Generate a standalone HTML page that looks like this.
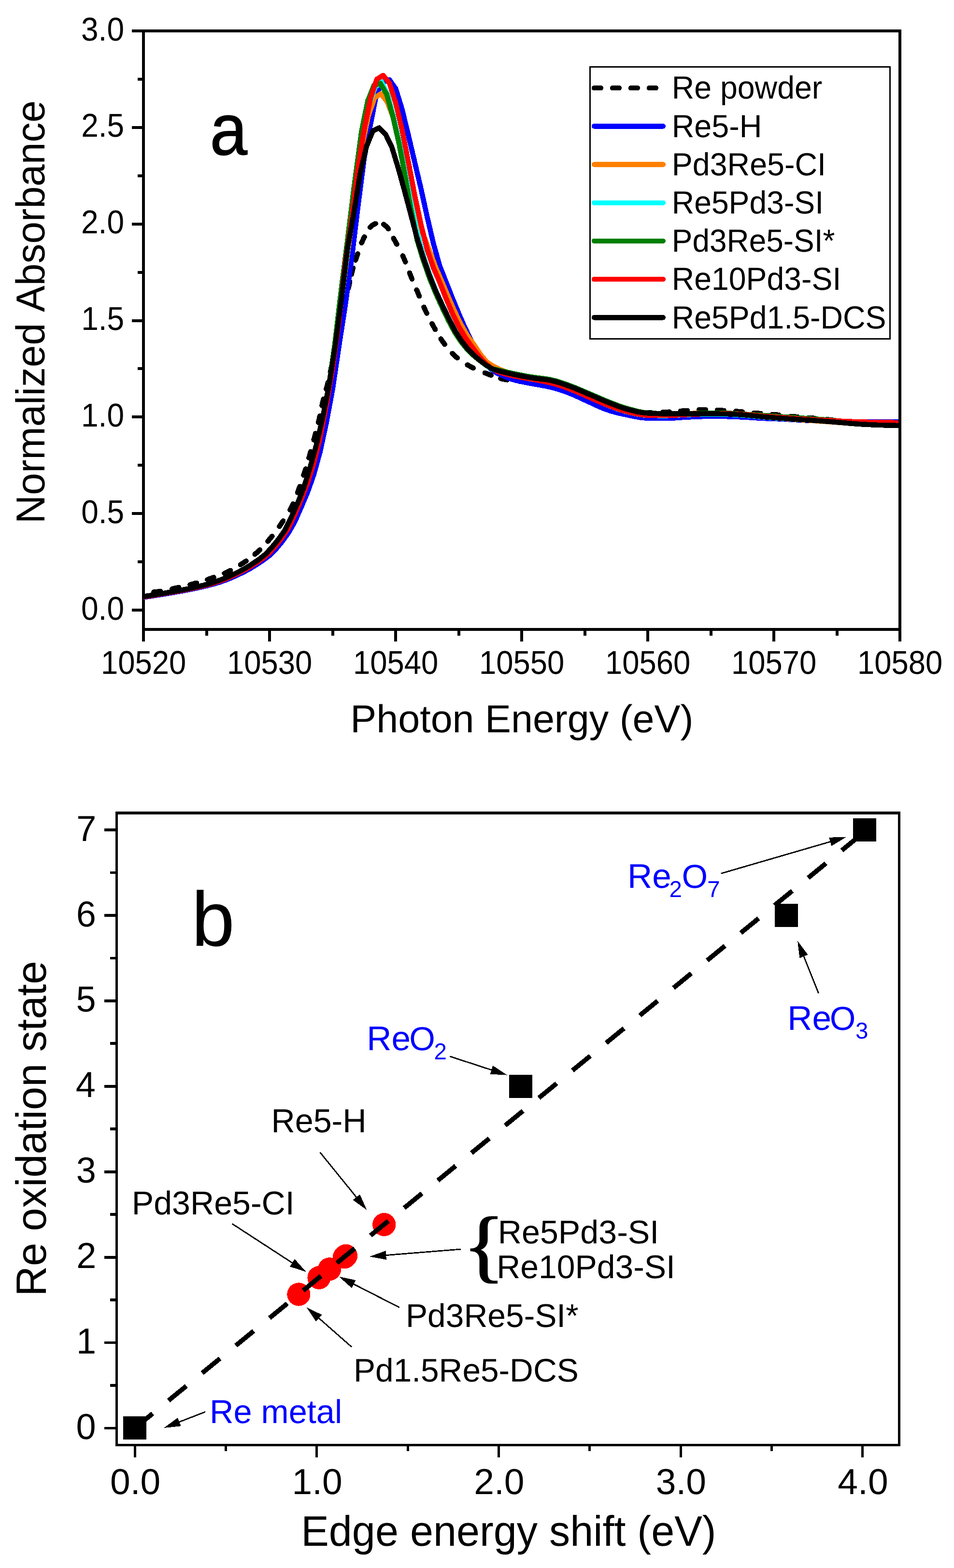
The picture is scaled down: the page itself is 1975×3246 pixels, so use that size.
<!DOCTYPE html>
<html lang="en"><head><meta charset="utf-8"><title>Re L3-edge XANES and oxidation state</title>
<style>
html,body{margin:0;padding:0;background:#fff;}
body{width:1975px;height:3246px;overflow:hidden;}
svg{display:block;}
svg text{font-family:"Liberation Sans",sans-serif;font-kerning:none;font-variant-ligatures:none;white-space:pre;}
</style></head><body>
<svg width="1975" height="3246" viewBox="0 0 1975 3246" shape-rendering="crispEdges" text-rendering="geometricPrecision">
<rect x="0" y="0" width="1975" height="3246" fill="#fff"/>
<rect x="294.00" y="61.00" width="6.00" height="1245.00" fill="#000"/>
<rect x="294.00" y="1300.00" width="1572.00" height="6.00" fill="#000"/>
<rect x="294.00" y="61.00" width="1572.00" height="6.00" fill="#000"/>
<rect x="1860.00" y="61.00" width="6.00" height="1245.00" fill="#000"/>
<rect x="273.00" y="1260.00" width="22.00" height="6.00" fill="#000"/>
<rect x="285.00" y="1160.08" width="10.00" height="6.00" fill="#000"/>
<rect x="273.00" y="1060.17" width="22.00" height="6.00" fill="#000"/>
<rect x="285.00" y="960.25" width="10.00" height="6.00" fill="#000"/>
<rect x="273.00" y="860.33" width="22.00" height="6.00" fill="#000"/>
<rect x="285.00" y="760.42" width="10.00" height="6.00" fill="#000"/>
<rect x="273.00" y="660.50" width="22.00" height="6.00" fill="#000"/>
<rect x="285.00" y="560.58" width="10.00" height="6.00" fill="#000"/>
<rect x="273.00" y="460.67" width="22.00" height="6.00" fill="#000"/>
<rect x="285.00" y="360.75" width="10.00" height="6.00" fill="#000"/>
<rect x="273.00" y="260.83" width="22.00" height="6.00" fill="#000"/>
<rect x="285.00" y="160.92" width="10.00" height="6.00" fill="#000"/>
<rect x="273.00" y="61.00" width="22.00" height="6.00" fill="#000"/>
<rect x="294.00" y="1305.00" width="6.00" height="23.00" fill="#000"/>
<rect x="424.50" y="1305.00" width="6.00" height="11.00" fill="#000"/>
<rect x="555.00" y="1305.00" width="6.00" height="23.00" fill="#000"/>
<rect x="685.50" y="1305.00" width="6.00" height="11.00" fill="#000"/>
<rect x="816.00" y="1305.00" width="6.00" height="23.00" fill="#000"/>
<rect x="946.50" y="1305.00" width="6.00" height="11.00" fill="#000"/>
<rect x="1077.00" y="1305.00" width="6.00" height="23.00" fill="#000"/>
<rect x="1207.50" y="1305.00" width="6.00" height="11.00" fill="#000"/>
<rect x="1338.00" y="1305.00" width="6.00" height="23.00" fill="#000"/>
<rect x="1468.50" y="1305.00" width="6.00" height="11.00" fill="#000"/>
<rect x="1599.00" y="1305.00" width="6.00" height="23.00" fill="#000"/>
<rect x="1729.50" y="1305.00" width="6.00" height="11.00" fill="#000"/>
<rect x="1860.00" y="1305.00" width="6.00" height="23.00" fill="#000"/>
<clipPath id="clipA"><rect x="297" y="67" width="1563" height="1233"/></clipPath>
<g clip-path="url(#clipA)" fill="none" stroke-linejoin="round" stroke-linecap="butt">
<path d="M285.0,1229.0 L287.4,1228.7 L289.7,1228.4 L292.1,1228.1 L294.4,1227.8 M318.5,1225.6 L322.0,1225.3 L325.4,1224.9 L328.8,1224.4 L332.2,1223.9 M356.5,1219.0 L359.9,1218.2 L363.3,1217.5 L366.6,1216.8 L370.0,1216.0 M393.6,1210.4 L396.9,1209.6 L400.2,1208.7 L403.6,1207.7 L406.9,1206.8 M429.5,1199.8 L432.7,1198.7 L436.0,1197.5 L439.2,1196.4 L442.5,1195.3 M464.6,1186.8 L467.8,1185.5 L470.9,1184.0 L474.0,1182.6 L477.1,1181.0 M497.9,1169.1 L500.8,1167.2 L503.7,1165.3 L506.6,1163.4 L509.4,1161.5 M527.7,1147.4 L530.3,1145.2 L532.9,1142.9 L535.5,1140.5 L538.0,1138.2 M554.5,1120.4 L556.8,1117.8 L559.0,1115.2 L561.2,1112.5 L563.4,1109.9 M578.4,1089.8 L580.4,1086.9 L582.3,1084.1 L584.2,1081.2 L586.2,1078.4 M600.6,1055.4 L602.2,1052.4 L603.8,1049.3 L605.2,1046.2 L606.7,1043.0 M616.0,1019.7 L617.2,1016.5 L618.4,1013.3 L619.6,1010.0 L620.8,1006.8 M628.6,983.9 L629.7,980.6 L630.7,977.3 L631.8,974.0 L632.8,970.7 M639.5,948.1 L640.5,944.7 L641.4,941.4 L642.3,938.1 L643.2,934.8 M649.7,910.5 L650.6,907.2 L651.4,903.9 L652.3,900.5 L653.2,897.2 M659.1,874.6 L659.9,871.2 L660.7,867.9 L661.5,864.5 L662.2,861.1 M666.5,839.7 L667.2,836.4 L668.0,833.0 L668.7,829.6 L669.6,826.3 M675.4,805.3 L676.4,801.9 L677.3,798.6 L678.2,795.3 L679.0,791.9 M683.8,770.6 L684.5,767.3 L685.2,763.9 L685.9,760.5 L686.6,757.1 M690.4,735.6 L691.0,732.2 L691.6,728.8 L692.1,725.4 L692.7,722.0 M696.4,700.5 L697.0,697.1 L697.7,693.7 L698.3,690.3 L698.9,687.0 M703.1,665.5 L703.8,662.1 L704.5,658.8 L705.3,655.4 L706.0,652.0 M711.7,631.0 L712.7,627.7 L713.6,624.3 L714.6,621.0 L715.6,617.7 M721.2,596.6 L722.0,593.3 L722.7,589.9 L723.5,586.5 L724.2,583.2 M727.5,568.2 L728.3,564.8 L729.2,561.5 L730.1,558.1 L731.0,554.8 M736.1,538.5 L737.2,535.3 L738.3,532.0 L739.4,528.7 L740.5,525.4 M748.6,502.9 L750.0,499.7 L751.4,496.6 L752.9,493.5 L754.4,490.4 M766.2,470.5 L768.7,468.0 L771.4,466.0 L774.5,464.3 L777.6,462.9 M794.1,464.3 L796.8,466.4 L799.4,468.6 L801.9,471.1 L804.0,473.8 M814.8,493.4 L816.4,496.5 L818.0,499.5 L819.7,502.5 L821.4,505.6 M833.8,529.6 L835.2,532.8 L836.7,535.9 L838.0,539.1 L839.3,542.3 M847.9,564.9 L849.1,568.1 L850.4,571.4 L851.7,574.5 L853.0,577.7 M862.6,600.3 L864.0,603.4 L865.4,606.6 L866.7,609.8 L868.0,613.0 M877.6,635.8 L879.0,639.0 L880.4,642.1 L881.9,645.3 L883.4,648.4 M894.4,670.0 L896.0,673.0 L897.7,676.0 L899.3,679.0 L901.0,682.0 M912.8,701.6 L914.7,704.5 L916.7,707.3 L918.7,710.1 L920.7,712.9 M936.5,731.7 L938.9,734.2 L941.4,736.5 L944.0,738.8 L946.7,741.0 M967.7,755.4 L970.7,757.1 L973.7,758.7 L976.7,760.3 L979.8,761.9 M1003.8,771.9 L1007.0,773.1 L1010.2,774.3 L1013.4,775.6 L1016.7,776.8 M1036.6,783.6 L1040.0,784.5 L1043.4,785.2 L1046.8,785.8 L1050.2,786.3 M1074.6,789.2 L1078.0,789.5 L1081.5,789.9 L1084.9,790.2 L1088.3,790.6 M1112.7,793.8 L1116.1,794.3 L1119.5,794.8 L1123.0,795.3 L1126.4,795.8 M1150.6,799.8 L1154.0,800.4 L1157.4,801.1 L1160.8,801.8 L1164.2,802.4 M1188.1,808.3 L1191.4,809.3 L1194.6,810.4 L1197.9,811.6 L1201.1,812.9 M1223.6,822.7 L1226.8,824.1 L1229.9,825.6 L1233.0,827.0 L1236.2,828.4 M1259.0,837.6 L1262.2,838.8 L1265.5,839.9 L1268.7,841.1 L1272.0,842.2 M1295.5,849.2 L1298.9,849.8 L1302.4,850.4 L1305.8,850.9 L1309.2,851.4 M1333.6,853.9 L1337.1,854.0 L1340.5,854.0 L1344.0,854.0 L1347.4,853.9 M1372.0,853.3 L1375.5,853.1 L1378.9,853.0 L1382.4,852.9 L1385.8,852.7 M1409.1,851.0 L1412.6,850.7 L1416.0,850.5 L1419.4,850.3 L1422.9,850.0 M1447.0,848.2 L1450.5,848.0 L1453.9,848.0 L1457.4,848.0 L1460.8,848.1 M1485.0,849.1 L1488.5,849.3 L1491.9,849.5 L1495.4,849.7 L1498.8,849.9 M1523.3,851.5 L1526.7,851.7 L1530.1,852.0 L1533.6,852.3 L1537.0,852.6 M1561.1,854.9 L1564.6,855.2 L1568.0,855.5 L1571.4,855.8 L1574.9,856.1 M1599.0,857.9 L1602.5,858.2 L1605.9,858.5 L1609.3,858.8 L1612.8,859.2 M1637.1,861.8 L1640.6,862.2 L1644.0,862.5 L1647.4,862.8 L1650.9,863.1 M1674.2,864.9 L1677.6,865.2 L1681.0,865.5 L1684.5,865.8 L1687.9,866.1 M1711.2,868.3 L1714.6,868.6 L1718.0,869.0 L1721.5,869.4 L1724.9,869.8 M1748.9,872.7 L1752.3,873.1 L1755.8,873.5 L1759.2,873.9 L1762.6,874.3 M1786.7,877.0 L1790.1,877.3 L1793.5,877.6 L1797.0,877.8 L1800.4,878.0 M1824.6,879.1 L1828.0,879.2 L1831.5,879.3 L1834.9,879.4 L1838.4,879.5 M1862.6,880.0 L1865.7,880.1 L1868.8,880.1 L1871.9,880.2 L1875.0,880.2" stroke="#000" stroke-width="10.6" stroke-linecap="round"/>
<path d="M284.1,1238.2 L297.1,1236.5 L310.2,1234.6 L323.2,1232.5 L336.3,1230.4 L349.4,1228.2 L362.4,1226.0 L375.5,1223.7 L388.5,1221.2 L401.6,1218.6 L414.6,1215.8 L427.7,1212.8 L440.7,1209.4 L453.8,1205.6 L466.8,1201.0 L479.9,1195.7 L492.9,1189.8 L506.0,1183.5 L519.0,1176.3 L532.1,1168.2 L545.1,1159.7 L558.2,1149.8 L571.2,1136.7 L584.3,1120.9 L597.3,1102.9 L610.4,1079.8 L623.4,1050.4 L636.5,1019.6 L649.5,982.9 L662.6,935.5 L675.6,875.5 L688.7,804.9 L701.7,716.8 L714.8,631.9 L727.8,537.1 L740.9,429.1 L753.9,327.4 L767.0,257.3 L780.0,191.7 L793.1,169.8 L806.1,165.0 L819.2,183.5 L832.2,225.6 L845.3,279.5 L858.3,334.6 L871.4,390.0 L884.4,449.1 L897.5,505.0 L910.5,551.0 L923.6,584.1 L936.6,617.2 L949.7,648.9 L962.7,678.6 L975.8,705.2 L988.8,728.5 L1001.9,748.5 L1014.9,763.3 L1028.0,772.0 L1041.0,777.9 L1054.1,783.4 L1067.1,787.3 L1080.2,790.2 L1093.2,792.7 L1106.3,795.2 L1119.3,797.4 L1132.4,799.8 L1145.4,802.9 L1158.5,806.7 L1171.5,811.2 L1184.6,816.2 L1197.6,822.0 L1210.7,828.2 L1223.7,834.1 L1236.8,840.2 L1249.8,845.8 L1262.9,850.4 L1275.9,854.0 L1289.0,857.1 L1302.0,859.8 L1315.1,862.5 L1328.1,864.8 L1341.2,865.7 L1354.2,865.8 L1367.3,865.9 L1380.3,865.9 L1393.4,865.5 L1406.4,864.6 L1419.5,863.7 L1432.5,863.1 L1445.6,862.4 L1458.6,862.1 L1471.7,862.1 L1484.7,862.1 L1497.8,862.1 L1510.8,862.3 L1523.9,862.8 L1536.9,863.5 L1550.0,864.1 L1563.0,865.0 L1576.1,865.8 L1589.1,866.4 L1602.2,866.9 L1615.2,867.4 L1628.3,868.0 L1641.3,868.8 L1654.4,869.6 L1667.4,870.2 L1680.5,870.8 L1693.5,871.3 L1706.6,871.7 L1719.6,872.1 L1732.7,872.5 L1745.7,872.8 L1758.8,873.2 L1771.8,873.4 L1784.9,873.5 L1797.9,873.5 L1811.0,873.4 L1824.0,873.4 L1837.1,873.3 L1850.1,873.3 L1863.2,873.3" stroke="#0000ff" stroke-width="10.6"/>
<path d="M276.0,1237.8 L289.1,1236.0 L302.1,1234.1 L315.2,1232.0 L328.2,1229.9 L341.3,1227.7 L354.4,1225.4 L367.4,1223.1 L380.5,1220.6 L393.5,1217.9 L406.6,1215.0 L419.6,1212.0 L432.7,1208.5 L445.7,1204.5 L458.8,1199.7 L471.8,1194.3 L484.9,1188.3 L497.9,1181.8 L511.0,1174.4 L524.0,1166.2 L537.1,1157.4 L550.1,1146.8 L563.2,1132.8 L576.2,1116.8 L589.3,1098.3 L602.3,1072.4 L615.4,1043.1 L628.4,1011.0 L641.5,969.2 L654.5,922.5 L667.6,867.0 L680.6,800.7 L693.7,717.9 L706.7,619.5 L719.8,522.8 L732.8,428.6 L749.6,301.6 L762.6,239.9 L775.7,202.2 L788.7,194.0 L801.8,211.3 L814.8,244.8 L827.9,305.4 L837.2,348.6 L850.3,409.7 L863.3,456.5 L876.4,485.9 L889.4,519.4 L902.5,554.7 L915.5,584.7 L928.6,615.8 L941.6,645.4 L954.7,672.2 L967.7,694.9 L980.8,712.8 L993.8,732.4 L1006.9,748.6 L1019.9,757.4 L1033.0,764.1 L1046.0,769.1 L1059.1,773.1 L1072.1,776.5 L1085.2,779.3 L1098.2,781.7 L1111.3,783.6 L1124.3,785.1 L1137.4,787.0 L1150.4,790.0 L1163.5,794.1 L1176.5,798.7 L1189.6,803.6 L1202.6,809.0 L1215.7,814.7 L1228.7,820.2 L1241.8,825.9 L1254.8,831.4 L1267.9,836.6 L1280.9,841.6 L1294.0,845.9 L1307.0,849.4 L1320.1,852.5 L1333.1,854.7 L1346.2,855.6 L1359.2,856.1 L1372.3,856.4 L1385.3,856.5 L1398.4,856.5 L1411.4,856.4 L1424.5,856.2 L1437.5,855.7 L1450.6,855.1 L1463.6,854.9 L1476.7,854.9 L1489.7,854.9 L1502.8,854.9 L1515.8,855.9 L1528.9,857.6 L1541.9,859.2 L1555.0,860.5 L1568.0,861.9 L1581.1,863.1 L1594.1,864.3 L1607.2,865.5 L1620.2,866.5 L1633.3,867.4 L1646.3,868.3 L1659.4,869.2 L1672.4,870.1 L1685.5,871.0 L1698.5,871.9 L1711.6,872.8 L1724.6,873.8 L1737.7,874.8 L1750.7,875.8 L1763.8,876.9 L1776.8,877.8 L1789.9,878.6 L1802.9,879.2 L1816.0,879.8 L1829.0,880.2 L1842.1,880.5 L1855.1,880.8 L1868.2,881.0" stroke="#ff8000" stroke-width="10.6"/>
<path d="M276.0,1237.8 L289.1,1236.0 L302.1,1234.1 L315.2,1232.0 L328.2,1229.9 L341.3,1227.7 L354.4,1225.4 L367.4,1223.1 L380.5,1220.6 L393.5,1217.9 L406.6,1215.0 L419.6,1212.0 L432.7,1208.5 L445.7,1204.5 L458.8,1199.7 L471.8,1194.3 L484.9,1188.3 L497.9,1181.8 L511.0,1174.4 L524.0,1166.2 L537.1,1157.4 L550.1,1146.8 L563.2,1132.8 L576.2,1116.8 L589.3,1098.3 L602.3,1072.4 L615.4,1043.1 L628.4,1011.0 L641.5,969.2 L654.5,922.5 L667.6,867.0 L680.6,800.7 L693.7,717.9 L706.7,619.5 L719.8,515.8 L732.8,411.3 L750.6,286.7 L763.6,217.0 L776.7,180.6 L789.7,169.0 L802.8,197.5 L815.8,247.0 L828.9,305.2 L837.2,349.1 L850.3,418.4 L863.3,480.4 L876.4,528.9 L889.4,568.3 L902.5,602.6 L915.5,630.7 L928.6,657.9 L941.6,683.3 L954.7,704.1 L967.7,721.1 L980.8,734.9 L993.8,746.6 L1006.9,756.8 L1019.9,764.9 L1033.0,768.9 L1046.0,772.5 L1059.1,775.8 L1072.1,779.0 L1085.2,781.9 L1098.2,784.7 L1111.3,786.9 L1124.3,788.9 L1137.4,791.2 L1150.4,794.6 L1163.5,799.1 L1176.5,804.2 L1189.6,809.3 L1202.6,814.8 L1215.7,820.5 L1228.7,826.2 L1241.8,832.1 L1254.8,837.7 L1267.9,842.7 L1280.9,847.5 L1294.0,851.6 L1307.0,854.7 L1320.1,857.6 L1333.1,859.5 L1346.2,860.0 L1359.2,860.2 L1372.3,860.3 L1385.3,860.2 L1398.4,859.7 L1411.4,859.0 L1424.5,858.4 L1437.5,858.0 L1450.6,857.6 L1463.6,857.5 L1476.7,857.5 L1489.7,857.6 L1502.8,857.8 L1515.8,858.2 L1528.9,859.0 L1541.9,859.8 L1555.0,860.9 L1568.0,862.2 L1581.1,863.4 L1594.1,864.4 L1607.2,865.4 L1620.2,866.3 L1633.3,867.1 L1646.3,867.9 L1659.4,868.7 L1672.4,869.5 L1685.5,870.4 L1698.5,871.4 L1711.6,872.4 L1724.6,873.4 L1737.7,874.5 L1750.7,875.6 L1763.8,876.8 L1776.8,877.8 L1789.9,878.6 L1802.9,879.2 L1816.0,879.8 L1829.0,880.2 L1842.1,880.5 L1855.1,880.8 L1868.2,881.0" stroke="#00ffff" stroke-width="10.6"/>
<path d="M276.0,1237.8 L289.1,1236.0 L302.1,1234.1 L315.2,1232.0 L328.2,1229.9 L341.3,1227.7 L354.4,1225.4 L367.4,1223.1 L380.5,1220.6 L393.5,1217.9 L406.6,1215.0 L419.6,1212.0 L432.7,1208.5 L445.7,1204.5 L458.8,1199.7 L471.8,1194.3 L484.9,1188.3 L497.9,1181.8 L511.0,1174.4 L524.0,1166.2 L537.1,1157.4 L550.1,1146.8 L563.2,1132.8 L576.2,1116.8 L589.3,1098.3 L602.3,1072.4 L615.4,1043.1 L628.4,1011.0 L641.5,969.2 L654.5,922.5 L667.6,867.0 L680.6,800.4 L693.7,707.7 L706.7,597.4 L719.8,494.1 L732.8,388.6 L748.3,273.1 L761.3,208.8 L774.4,176.4 L787.4,172.7 L800.5,195.0 L813.5,241.7 L826.6,299.6 L837.2,356.3 L850.3,430.7 L863.3,496.4 L876.4,539.2 L889.4,576.1 L902.5,608.2 L915.5,636.6 L928.6,664.0 L941.6,688.4 L954.7,708.0 L967.7,723.8 L980.8,736.3 L993.8,746.9 L1006.9,756.1 L1019.9,763.4 L1033.0,766.6 L1046.0,769.6 L1059.1,772.5 L1072.1,775.2 L1085.2,777.8 L1098.2,780.1 L1111.3,781.9 L1124.3,783.5 L1137.4,785.4 L1150.4,788.4 L1163.5,792.5 L1176.5,797.1 L1189.6,802.0 L1202.6,807.5 L1215.7,813.1 L1228.7,818.7 L1241.8,824.4 L1254.8,829.9 L1267.9,835.0 L1280.9,840.0 L1294.0,844.4 L1307.0,848.0 L1320.1,851.5 L1333.1,854.1 L1346.2,855.2 L1359.2,855.8 L1372.3,856.2 L1385.3,856.3 L1398.4,856.3 L1411.4,856.3 L1424.5,856.3 L1437.5,856.0 L1450.6,855.6 L1463.6,855.5 L1476.7,855.4 L1489.7,855.4 L1502.8,855.4 L1515.8,855.9 L1528.9,856.8 L1541.9,857.6 L1555.0,858.3 L1568.0,859.1 L1581.1,859.9 L1594.1,860.8 L1607.2,861.8 L1620.2,862.8 L1633.3,863.7 L1646.3,864.6 L1659.4,865.5 L1672.4,866.3 L1685.5,867.2 L1698.5,868.2 L1711.6,869.2 L1724.6,870.3 L1737.7,871.4 L1750.7,872.6 L1763.8,873.8 L1776.8,874.9 L1789.9,875.7 L1802.9,876.4 L1816.0,877.0 L1829.0,877.4 L1842.1,877.8 L1855.1,878.1 L1868.2,878.4" stroke="#008000" stroke-width="10.6"/>
<path d="M284.2,1237.4 L297.2,1235.6 L310.3,1233.6 L323.3,1231.5 L336.4,1229.3 L349.4,1227.1 L362.5,1224.9 L375.5,1222.5 L388.6,1219.9 L401.6,1217.2 L414.7,1214.3 L427.7,1211.2 L440.8,1207.6 L453.8,1203.4 L466.9,1198.5 L479.9,1192.9 L493.0,1186.8 L506.0,1180.2 L519.1,1172.5 L532.1,1164.2 L545.2,1155.2 L558.2,1143.8 L571.3,1129.3 L584.3,1112.5 L597.4,1092.7 L610.4,1065.4 L623.5,1034.4 L636.5,1000.2 L649.6,959.1 L662.6,906.3 L675.7,838.2 L688.7,761.6 L701.8,665.2 L714.8,543.6 L727.9,454.4 L740.9,349.4 L754.0,267.6 L767.0,203.7 L780.1,164.0 L793.1,156.0 L806.2,172.2 L819.2,213.4 L832.3,268.5 L845.3,334.9 L858.4,403.7 L871.4,464.0 L884.5,517.1 L897.5,554.9 L910.6,585.1 L923.6,618.1 L936.7,649.0 L949.7,675.8 L962.8,698.2 L975.8,716.4 L988.9,733.8 L1001.9,749.2 L1015.0,760.9 L1028.0,768.1 L1041.1,772.8 L1054.1,776.1 L1067.2,778.9 L1080.2,781.3 L1093.3,783.6 L1106.3,786.0 L1119.4,788.3 L1132.4,790.8 L1145.5,793.9 L1158.5,797.8 L1171.6,802.3 L1184.6,807.2 L1197.7,812.6 L1210.7,818.4 L1223.8,824.1 L1236.8,829.9 L1249.9,835.5 L1262.9,840.6 L1276.0,845.4 L1289.0,849.8 L1302.1,853.3 L1315.1,856.3 L1328.2,858.7 L1341.2,859.7 L1354.3,859.9 L1367.3,860.1 L1380.4,860.1 L1393.4,859.7 L1406.5,859.0 L1419.5,858.3 L1432.6,857.8 L1445.6,857.3 L1458.7,856.9 L1471.7,856.7 L1484.8,856.5 L1497.8,856.4 L1510.9,856.6 L1523.9,857.1 L1537.0,857.8 L1550.0,858.7 L1563.1,859.9 L1576.1,861.2 L1589.2,862.2 L1602.2,863.1 L1615.3,864.1 L1628.3,865.0 L1641.4,866.0 L1654.4,866.9 L1667.5,867.7 L1680.5,868.5 L1693.6,869.2 L1706.6,869.9 L1719.7,870.6 L1732.7,871.3 L1745.8,872.0 L1758.8,872.6 L1771.9,873.1 L1784.9,873.5 L1798.0,873.9 L1811.0,874.1 L1824.1,874.4 L1837.1,874.6 L1850.2,874.8 L1863.2,874.9" stroke="#ff0000" stroke-width="10.6"/>
<path d="M276.0,1237.8 L289.1,1236.0 L302.1,1234.1 L315.2,1232.0 L328.2,1229.9 L341.3,1227.7 L354.4,1225.4 L367.4,1223.1 L380.5,1220.6 L393.5,1217.9 L406.6,1215.0 L419.6,1212.0 L432.7,1208.5 L445.7,1204.5 L458.8,1199.7 L471.8,1194.3 L484.9,1188.3 L497.9,1181.8 L511.0,1174.4 L524.0,1166.2 L537.1,1157.4 L550.1,1146.8 L563.2,1132.8 L576.2,1116.8 L589.3,1098.3 L602.3,1072.4 L615.4,1043.1 L628.4,1011.0 L641.5,969.2 L654.5,922.5 L667.6,867.0 L680.6,800.7 L693.7,717.9 L706.7,619.5 L719.8,511.7 L732.8,439.2 L745.9,357.6 L758.9,302.7 L772.0,271.0 L785.0,264.6 L798.1,277.7 L811.1,304.3 L824.2,347.0 L837.2,394.1 L850.3,443.4 L863.3,492.4 L876.4,533.8 L889.4,570.9 L902.5,603.3 L915.5,631.5 L928.6,658.8 L941.6,684.1 L954.7,704.7 L967.7,721.6 L980.8,735.1 L993.8,746.4 L1006.9,756.3 L1019.9,764.2 L1033.0,768.0 L1046.0,771.3 L1059.1,774.2 L1072.1,776.9 L1085.2,779.4 L1098.2,781.7 L1111.3,783.6 L1124.3,785.1 L1137.4,787.0 L1150.4,790.0 L1163.5,794.1 L1176.5,798.7 L1189.6,803.6 L1202.6,809.0 L1215.7,814.7 L1228.7,820.2 L1241.8,825.9 L1254.8,831.4 L1267.9,836.6 L1280.9,841.6 L1294.0,845.9 L1307.0,849.4 L1320.1,852.5 L1333.1,854.7 L1346.2,855.6 L1359.2,856.1 L1372.3,856.4 L1385.3,856.5 L1398.4,856.4 L1411.4,856.3 L1424.5,856.3 L1437.5,856.4 L1450.6,856.4 L1463.6,856.5 L1476.7,856.6 L1489.7,856.8 L1502.8,857.0 L1515.8,857.5 L1528.9,858.2 L1541.9,859.1 L1555.0,860.3 L1568.0,861.6 L1581.1,862.9 L1594.1,864.0 L1607.2,865.0 L1620.2,866.0 L1633.3,866.9 L1646.3,867.8 L1659.4,868.7 L1672.4,869.5 L1685.5,870.4 L1698.5,871.4 L1711.6,872.4 L1724.6,873.4 L1737.7,874.5 L1750.7,875.6 L1763.8,876.8 L1776.8,877.8 L1789.9,878.6 L1802.9,879.2 L1816.0,879.8 L1829.0,880.2 L1842.1,880.5 L1855.1,880.8 L1868.2,881.0" stroke="#000" stroke-width="10.6"/>
</g>
<text transform="translate(168.00,1282.60) scale(0.9360,1.0000)" font-size="68.40" fill="#000">0.0</text>
<text transform="translate(168.19,1082.77) scale(0.9360,1.0000)" font-size="68.40" fill="#000">0.5</text>
<text transform="translate(168.00,882.93) scale(0.9360,1.0000)" font-size="68.40" fill="#000">1.0</text>
<text transform="translate(168.19,683.10) scale(0.9360,1.0000)" font-size="68.40" fill="#000">1.5</text>
<text transform="translate(168.00,483.27) scale(0.9360,1.0000)" font-size="68.40" fill="#000">2.0</text>
<text transform="translate(168.19,283.43) scale(0.9360,1.0000)" font-size="68.40" fill="#000">2.5</text>
<text transform="translate(168.00,83.60) scale(0.9360,1.0000)" font-size="68.40" fill="#000">3.0</text>
<text transform="translate(208.90,1394.80) scale(0.9266,1.0000)" font-size="68.40" fill="#000">10520</text>
<text transform="translate(469.90,1394.80) scale(0.9266,1.0000)" font-size="68.40" fill="#000">10530</text>
<text transform="translate(730.90,1394.80) scale(0.9266,1.0000)" font-size="68.40" fill="#000">10540</text>
<text transform="translate(991.90,1394.80) scale(0.9266,1.0000)" font-size="68.40" fill="#000">10550</text>
<text transform="translate(1252.90,1394.80) scale(0.9266,1.0000)" font-size="68.40" fill="#000">10560</text>
<text transform="translate(1513.90,1394.80) scale(0.9266,1.0000)" font-size="68.40" fill="#000">10570</text>
<text transform="translate(1774.90,1394.80) scale(0.9266,1.0000)" font-size="68.40" fill="#000">10580</text>
<text transform="translate(725.37,1515.50) scale(1.0007,1.0000)" font-size="80.79" fill="#000">Photon Energy (eV)</text>
<text transform="translate(92.30,1084.03) rotate(-90) scale(0.9803,1.0000)" font-size="83.75" fill="#000">Normalized Absorbance</text>
<g stroke="#000" stroke-width="1.4" stroke-linejoin="round">
<text transform="translate(434.47,319.73) scale(0.9270,1.0000)" font-size="150.50" fill="#000">a</text>
</g>
<rect x="1221.6" y="138.2" width="621.1" height="563.3" fill="#fff" stroke="#000" stroke-width="3.2"/>
<line x1="1230.00" y1="182.10" x2="1372.80" y2="182.10" stroke="#000" stroke-width="10.4" stroke-linecap="round" stroke-dasharray="13.95 24.05"/>
<text transform="translate(1390.72,204.30) scale(0.9719,1.0000)" font-size="66.29" fill="#000">Re powder</text>
<line x1="1230.00" y1="261.30" x2="1372.80" y2="261.30" stroke="#0000ff" stroke-width="10.4" stroke-linecap="round" />
<text transform="translate(1390.70,283.50) scale(0.9745,1.0000)" font-size="66.29" fill="#000">Re5-H</text>
<line x1="1230.00" y1="340.50" x2="1372.80" y2="340.50" stroke="#ff8000" stroke-width="10.4" stroke-linecap="round" />
<text transform="translate(1390.71,362.70) scale(0.9736,1.0000)" font-size="66.29" fill="#000">Pd3Re5-CI</text>
<line x1="1230.00" y1="419.70" x2="1372.80" y2="419.70" stroke="#00ffff" stroke-width="10.4" stroke-linecap="round" />
<text transform="translate(1390.73,441.90) scale(0.9696,1.0000)" font-size="66.29" fill="#000">Re5Pd3-SI</text>
<line x1="1230.00" y1="498.90" x2="1372.80" y2="498.90" stroke="#008000" stroke-width="10.4" stroke-linecap="round" />
<text transform="translate(1390.76,521.10) scale(0.9646,1.0000)" font-size="66.29" fill="#000">Pd3Re5-SI*</text>
<line x1="1230.00" y1="578.10" x2="1372.80" y2="578.10" stroke="#ff0000" stroke-width="10.4" stroke-linecap="round" />
<text transform="translate(1390.72,600.30) scale(0.9709,1.0000)" font-size="66.29" fill="#000">Re10Pd3-SI</text>
<line x1="1230.00" y1="657.30" x2="1372.80" y2="657.30" stroke="#000" stroke-width="10.4" stroke-linecap="round" />
<text transform="translate(1390.72,679.50) scale(0.9713,1.0000)" font-size="66.29" fill="#000">Re5Pd1.5-DCS</text>
<circle cx="618.4" cy="2679.5" r="24.1" fill="#ff0000"/>
<circle cx="660.5" cy="2644.9" r="24.1" fill="#ff0000"/>
<circle cx="682.1" cy="2627.3" r="24.1" fill="#ff0000"/>
<circle cx="713.0" cy="2602.4" r="24.1" fill="#ff0000"/>
<circle cx="716.0" cy="2599.8" r="24.1" fill="#ff0000"/>
<circle cx="795.2" cy="2535.0" r="24.1" fill="#ff0000"/>
<line x1="279.20" y1="2956.30" x2="1790.00" y2="1721.83" stroke="#000" stroke-width="9.7" stroke-linecap="butt" stroke-dasharray="47.6 42.4"/>
<rect x="254.90" y="2932.20" width="48.00" height="48.00" fill="#000"/>
<rect x="1053.80" y="2224.70" width="48.00" height="48.00" fill="#000"/>
<rect x="1604.00" y="1870.90" width="48.00" height="48.00" fill="#000"/>
<rect x="1766.00" y="1693.70" width="48.00" height="48.00" fill="#000"/>
<rect x="239.30" y="1680.00" width="4.70" height="1313.70" fill="#000"/>
<rect x="239.30" y="2989.00" width="1624.50" height="4.80" fill="#000"/>
<rect x="239.30" y="1680.00" width="1624.50" height="6.00" fill="#000"/>
<rect x="1858.80" y="1680.00" width="5.00" height="1313.80" fill="#000"/>
<rect x="216.00" y="2953.50" width="24.00" height="5.80" fill="#000"/>
<rect x="228.00" y="2865.05" width="12.00" height="5.80" fill="#000"/>
<rect x="216.00" y="2776.60" width="24.00" height="5.80" fill="#000"/>
<rect x="228.00" y="2688.15" width="12.00" height="5.80" fill="#000"/>
<rect x="216.00" y="2599.70" width="24.00" height="5.80" fill="#000"/>
<rect x="228.00" y="2511.25" width="12.00" height="5.80" fill="#000"/>
<rect x="216.00" y="2422.80" width="24.00" height="5.80" fill="#000"/>
<rect x="228.00" y="2334.35" width="12.00" height="5.80" fill="#000"/>
<rect x="216.00" y="2245.90" width="24.00" height="5.80" fill="#000"/>
<rect x="228.00" y="2157.45" width="12.00" height="5.80" fill="#000"/>
<rect x="216.00" y="2069.00" width="24.00" height="5.80" fill="#000"/>
<rect x="228.00" y="1980.55" width="12.00" height="5.80" fill="#000"/>
<rect x="216.00" y="1892.10" width="24.00" height="5.80" fill="#000"/>
<rect x="228.00" y="1803.65" width="12.00" height="5.80" fill="#000"/>
<rect x="216.00" y="1715.20" width="24.00" height="5.80" fill="#000"/>
<rect x="276.70" y="2993.00" width="5.00" height="23.70" fill="#000"/>
<rect x="465.00" y="2993.00" width="5.00" height="10.60" fill="#000"/>
<rect x="653.30" y="2993.00" width="5.00" height="23.70" fill="#000"/>
<rect x="841.60" y="2993.00" width="5.00" height="10.60" fill="#000"/>
<rect x="1029.90" y="2993.00" width="5.00" height="23.70" fill="#000"/>
<rect x="1218.20" y="2993.00" width="5.00" height="10.60" fill="#000"/>
<rect x="1406.50" y="2993.00" width="5.00" height="23.70" fill="#000"/>
<rect x="1594.80" y="2993.00" width="5.00" height="10.60" fill="#000"/>
<rect x="1783.10" y="2993.00" width="5.00" height="23.70" fill="#000"/>
<text transform="translate(157.40,2978.90) scale(0.9850,1.0000)" font-size="75.00" fill="#000">0</text>
<text transform="translate(158.12,2802.00) scale(0.9850,1.0000)" font-size="75.00" fill="#000">1</text>
<text transform="translate(158.23,2625.10) scale(0.9850,1.0000)" font-size="75.00" fill="#000">2</text>
<text transform="translate(157.76,2448.20) scale(0.9850,1.0000)" font-size="75.00" fill="#000">3</text>
<text transform="translate(156.68,2271.30) scale(0.9850,1.0000)" font-size="75.00" fill="#000">4</text>
<text transform="translate(157.62,2094.40) scale(0.9850,1.0000)" font-size="75.00" fill="#000">5</text>
<text transform="translate(157.76,1917.50) scale(0.9850,1.0000)" font-size="75.00" fill="#000">6</text>
<text transform="translate(158.23,1740.60) scale(0.9850,1.0000)" font-size="75.00" fill="#000">7</text>
<text transform="translate(227.97,3092.80) scale(1.0000,1.0000)" font-size="75.00" fill="#000">0.0</text>
<text transform="translate(604.57,3092.80) scale(1.0000,1.0000)" font-size="75.00" fill="#000">1.0</text>
<text transform="translate(981.17,3092.80) scale(1.0000,1.0000)" font-size="75.00" fill="#000">2.0</text>
<text transform="translate(1357.77,3092.80) scale(1.0000,1.0000)" font-size="75.00" fill="#000">3.0</text>
<text transform="translate(1734.37,3092.80) scale(1.0000,1.0000)" font-size="75.00" fill="#000">4.0</text>
<text transform="translate(623.21,3200.20) scale(0.9771,1.0000)" font-size="88.40" fill="#000">Edge energy shift (eV)</text>
<text transform="translate(95.30,2683.62) rotate(-90) scale(0.9852,1.0000)" font-size="88.05" fill="#000">Re oxidation state</text>
<text transform="translate(396.54,1957.90) scale(1.0040,1.0000)" font-size="160.10" fill="#000">b</text>
<line x1="1492.50" y1="1808.30" x2="1720.59" y2="1741.97" stroke="#000" stroke-width="2.8" stroke-linecap="butt" />
<polygon points="1751.8,1732.9 1721.3,1751.4 1716.1,1733.7" fill="#000"/>
<line x1="1694.70" y1="2056.20" x2="1663.24" y2="1978.05" stroke="#000" stroke-width="2.8" stroke-linecap="butt" />
<polygon points="1651.1,1947.9 1672.6,1976.4 1655.4,1983.4" fill="#000"/>
<line x1="931.30" y1="2186.90" x2="1019.30" y2="2215.54" stroke="#000" stroke-width="2.8" stroke-linecap="butt" />
<polygon points="1050.2,2225.6 1014.5,2223.7 1020.3,2206.1" fill="#000"/>
<line x1="425.10" y1="2922.70" x2="369.40" y2="2944.33" stroke="#000" stroke-width="2.8" stroke-linecap="butt" />
<polygon points="339.1,2956.1 367.9,2935.0 374.6,2952.2" fill="#000"/>
<line x1="662.50" y1="2385.50" x2="739.03" y2="2479.86" stroke="#000" stroke-width="2.8" stroke-linecap="butt" />
<polygon points="759.5,2505.1 730.6,2484.1 745.0,2472.5" fill="#000"/>
<line x1="480.80" y1="2533.50" x2="606.75" y2="2615.39" stroke="#000" stroke-width="2.8" stroke-linecap="butt" />
<polygon points="634.0,2633.1 600.0,2622.1 610.1,2606.5" fill="#000"/>
<line x1="826.80" y1="2706.60" x2="730.64" y2="2657.48" stroke="#000" stroke-width="2.8" stroke-linecap="butt" />
<polygon points="701.7,2642.7 736.6,2650.2 728.2,2666.6" fill="#000"/>
<line x1="728.20" y1="2788.60" x2="658.80" y2="2727.56" stroke="#000" stroke-width="2.8" stroke-linecap="butt" />
<polygon points="634.4,2706.1 666.4,2721.9 654.2,2735.8" fill="#000"/>
<line x1="953.80" y1="2586.10" x2="797.30" y2="2598.69" stroke="#000" stroke-width="2.8" stroke-linecap="butt" />
<polygon points="764.9,2601.3 798.5,2589.3 800.0,2607.8" fill="#000"/>
<text fill="#0000ff"><tspan x="1298.88" y="1838.20" font-size="71.00">Re</tspan><tspan x="1385.61" y="1856.90" font-size="47.50">2</tspan><tspan x="1411.44" y="1838.20" font-size="68.87">O</tspan><tspan x="1464.36" y="1856.90" font-size="47.50">7</tspan></text>
<text fill="#0000ff"><tspan x="1630.18" y="2131.80" font-size="71.00">Re</tspan><tspan x="1717.84" y="2131.80" font-size="68.87">O</tspan><tspan x="1771.09" y="2149.80" font-size="47.50">3</tspan></text>
<text fill="#0000ff"><tspan x="759.28" y="2174.00" font-size="71.00">Re</tspan><tspan x="847.14" y="2174.00" font-size="68.87">O</tspan><tspan x="898.41" y="2192.90" font-size="47.50">2</tspan></text>
<text transform="translate(433.88,2946.10) scale(0.9984,1.0000)" font-size="68.66" fill="#0000ff">Re metal</text>
<text transform="translate(561.40,2344.00) scale(0.9881,1.0000)" font-size="69.09" fill="#000">Re5-H</text>
<text transform="translate(272.81,2513.60) scale(0.9962,1.0000)" font-size="68.38" fill="#000">Pd3Re5-CI</text>
<text transform="translate(1030.71,2573.70) scale(1.0014,1.0000)" font-size="68.10" fill="#000">Re5Pd3-SI</text>
<text transform="translate(1028.23,2646.00) scale(0.9966,1.0000)" font-size="68.10" fill="#000">Re10Pd3-SI</text>
<text transform="translate(839.94,2747.40) scale(0.9944,1.0000)" font-size="68.10" fill="#000">Pd3Re5-SI*</text>
<text transform="translate(731.96,2859.90) scale(0.9988,1.0000)" font-size="67.68" fill="#000">Pd1.5Re5-DCS</text>
<text transform="translate(958.33,2633.89) scale(1.8134,1.6601)" font-size="100.0" stroke="#000" stroke-width="1.3" style="font-family:'Liberation Serif',serif">{</text>
</svg>
</body></html>
